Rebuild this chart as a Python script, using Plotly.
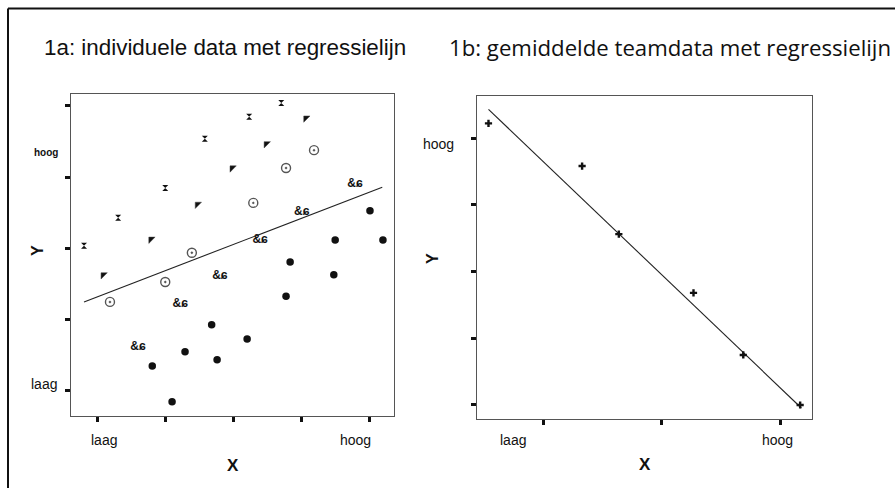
import plotly.graph_objects as go

W, H = 895, 488

# ---- Panel 1a data (x/y in tick units: 1 = first tick ... 5 = last tick) ----
fig_up_x = [0.81, 1.31, 2.00, 2.58, 3.23, 3.70]
fig_up_y = [3.04, 3.43, 3.85, 4.54, 4.85, 5.04]
fig_arrow_x = [1.09, 1.79, 2.47, 2.98, 3.48, 4.06]
fig_arrow_y = [2.63, 3.13, 3.62, 4.13, 4.47, 4.83]
smiley_x = [1.19, 2.00, 2.39, 3.29, 3.77, 4.18]
smiley_y = [2.25, 2.53, 2.94, 3.64, 4.13, 4.38]
bike_x = [1.60, 2.22, 2.80, 3.39, 4.00, 4.78]
bike_y = [1.62, 2.22, 2.61, 3.12, 3.51, 3.91]
dot_x = [1.81, 2.10, 2.29, 2.68, 2.76, 3.20, 3.77, 3.83, 4.47, 4.49, 5.00, 5.19]
dot_y = [1.35, 0.85, 1.55, 1.93, 1.44, 1.73, 2.33, 2.81, 2.63, 3.12, 3.53, 3.12]
reg1_x = [0.81, 5.18]
reg1_y = [2.25, 3.86]

# ---- Panel 1b data ----
team_x = [0.54, 1.33, 1.64, 2.27, 2.69, 3.17]
team_y = [5.22, 4.58, 3.56, 2.68, 1.75, 1.00]
reg2_x = [0.54, 3.18]
reg2_y = [5.43, 0.955]

ticks1_x = [1, 2, 3, 4, 5]
ticks1_y = [1, 2, 3, 4, 5]
ticks2_x = [1, 2, 3]
ticks2_y = [1, 2, 3, 4, 5]

title_a = "1a: individuele data met regressielijn"
title_b = "1b: gemiddelde teamdata met regressielijn"


def px(x):
    return x / W


def py(y):
    return 1 - y / H


fig = go.Figure()

mk = dict(showlegend=False, hoverinfo="skip")
fig.add_trace(go.Scatter(x=reg1_x, y=reg1_y, mode="lines", line=dict(color="#222", width=1.1),
                         xaxis="x", yaxis="y", **mk))
fig.add_trace(go.Scatter(x=fig_up_x, y=fig_up_y, mode="markers",
                         marker=dict(symbol="hourglass", size=6, color="#111"),
                         xaxis="x", yaxis="y", **mk))
fig.add_trace(go.Scatter(x=fig_arrow_x, y=fig_arrow_y, mode="markers",
                         marker=dict(symbol="triangle-nw", size=7, color="#111",
                                     line=dict(color="#444", width=0.5)),
                         xaxis="x", yaxis="y", **mk))
fig.add_trace(go.Scatter(x=smiley_x, y=smiley_y, mode="markers",
                         marker=dict(symbol="circle-open-dot", size=9, color="#555",
                                     line=dict(width=1.4)),
                         xaxis="x", yaxis="y", **mk))
fig.add_trace(go.Scatter(x=bike_x, y=bike_y, mode="text", text=["<b>&ɕ</b>"] * len(bike_x),
                         textfont=dict(family="Liberation Sans", size=12, color="#111"),
                         xaxis="x", yaxis="y", **mk))
fig.add_trace(go.Scatter(x=dot_x, y=dot_y, mode="markers",
                         marker=dict(symbol="circle", size=7.5, color="#111"),
                         xaxis="x", yaxis="y", **mk))

fig.add_trace(go.Scatter(x=reg2_x, y=reg2_y, mode="lines", line=dict(color="#222", width=1.1),
                         xaxis="x2", yaxis="y2", **mk))
fig.add_trace(go.Scatter(x=team_x, y=team_y, mode="markers",
                         marker=dict(symbol="cross", size=6, color="#111"),
                         xaxis="x2", yaxis="y2", **mk))

axcommon = dict(showgrid=False, zeroline=False, showline=True, linecolor="#555", linewidth=1,
                mirror=True, ticks="outside", ticklen=5, tickwidth=2.5, tickcolor="#111",
                showticklabels=False, fixedrange=True)

fig.update_layout(
    width=W, height=H,
    margin=dict(l=0, r=0, t=0, b=0),
    paper_bgcolor="white", plot_bgcolor="white",
    xaxis=dict(domain=[px(71), px(394)], range=[0.619, 5.352], tickvals=ticks1_x,
               anchor="y", **axcommon),
    yaxis=dict(domain=[py(416), py(94)], range=[0.649, 5.168], tickvals=ticks1_y,
               anchor="x", **axcommon),
    xaxis2=dict(domain=[px(477), px(812)], range=[0.443, 3.27], tickvals=ticks2_x,
                anchor="y2", **axcommon),
    yaxis2=dict(domain=[py(419), py(96)], range=[0.79, 5.63], tickvals=ticks2_y,
                anchor="x2", **axcommon),
)

# outer frame (top and left edges)
fig.add_shape(type="line", xref="paper", yref="paper", x0=px(8), x1=1, y0=py(8.5), y1=py(8.5),
              line=dict(color="#111", width=2))
fig.add_shape(type="line", xref="paper", yref="paper", x0=px(8), x1=px(8), y0=0, y1=py(8.5),
              line=dict(color="#111", width=2))

arial = "Liberation Sans, Arial, sans-serif"
hum = "Open Sans, Lato, sans-serif"


def ann(text, x, y, size, family=arial, bold=False, xanchor="center", angle=0):
    t = f"<b>{text}</b>" if bold else text
    fig.add_annotation(text=t, x=px(x), y=py(y), xref="paper", yref="paper",
                       xanchor=xanchor, yanchor="middle", showarrow=False, textangle=angle,
                       font=dict(family=family, size=size, color="#111"))


ann(title_a, 42, 47, 22.4, xanchor="left")
ann(title_b, 447, 47, 22.2, family=hum, xanchor="left")

# panel 1a axis labels
ann("hoog", 46, 152, 10, bold=True)
ann("laag", 44, 384, 14)
ann("Y", 37, 251, 16, bold=True, angle=-90)
ann("laag", 104, 440, 14)
ann("hoog", 355, 440, 14)
ann("X", 233, 465, 17, bold=True)

# panel 1b axis labels
ann("hoog", 438, 144, 14)
ann("Y", 432, 259, 16, bold=True, angle=-90)
ann("laag", 513, 440, 14)
ann("hoog", 777, 440, 14)
ann("X", 645, 464, 17, bold=True)

fig.write_html("out.html", config={"displayModeBar": False},
               post_script="document.body.style.margin='0';document.body.style.overflow='hidden';")
